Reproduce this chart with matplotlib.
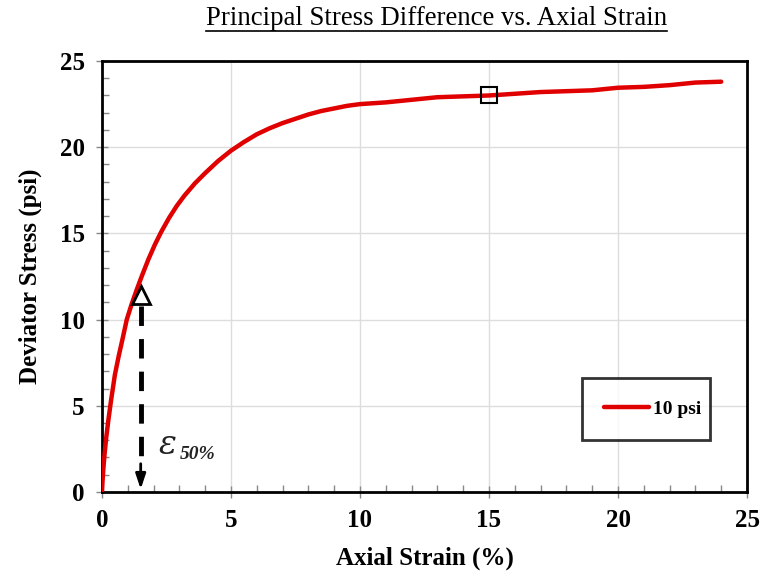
import matplotlib
matplotlib.use("Agg")
import matplotlib.pyplot as plt
from matplotlib.ticker import MultipleLocator
from matplotlib.lines import Line2D

# Data
strain = [0, 0.02, 0.05, 0.1, 0.16, 0.25, 0.35, 0.5, 0.65, 0.8, 0.96, 1.15, 1.35, 1.55,
          1.8, 2.05, 2.3, 2.6, 2.9, 3.2, 3.6, 4.0, 4.5, 5.0, 5.5, 6.0, 6.5, 7.0, 7.5,
          8.0, 8.5, 9.0, 9.5, 10, 11, 12, 13, 14, 15, 16, 17, 18, 19, 20, 21, 22, 23, 24]
stress = [0, 0.6, 1.3, 2.2, 3.1, 4.2, 5.3, 6.8, 7.9, 8.9, 10.0, 10.9, 11.75, 12.55,
          13.5, 14.35, 15.1, 15.9, 16.6, 17.2, 17.9, 18.5, 19.2, 19.8, 20.3, 20.75, 21.1,
          21.4, 21.65, 21.9, 22.1, 22.25, 22.4, 22.5, 22.6, 22.75, 22.9, 22.95, 23.0,
          23.1, 23.2, 23.25, 23.3, 23.45, 23.5, 23.6, 23.75, 23.8]
series_label = "10 psi"
eps50 = [1.5, 11.4]
peak = [15, 23.0]
xticks = [0, 5, 10, 15, 20, 25]
yticks = [0, 5, 10, 15, 20, 25]

serif = ['Liberation Serif', 'DejaVu Serif']

fig = plt.figure(figsize=(7.6, 5.74), dpi=100)
ax = fig.add_axes([0.1342, 0.1429, 0.8487, 0.7508])

ax.plot(strain, stress, color='#e00000', lw=3.2, solid_capstyle='round',
        solid_joinstyle='round', label=series_label, zorder=3)

# epsilon 50 arrow
ax.plot([eps50[0], eps50[0]], [eps50[1] - 0.6, 1.6], color='black', lw=3.5,
        dashes=(4, 2.7), zorder=4)
ax.annotate('', xy=(eps50[0], 0), xytext=(eps50[0], 1.8),
            arrowprops=dict(arrowstyle='-|>,head_length=0.9,head_width=0.3', color='black', lw=2),
            zorder=4)
ax.plot([eps50[0]], [eps50[1]], marker='^', ms=13, mfc='none', mec='black', mew=2, zorder=5)
ax.plot([peak[0]], [peak[1]], marker='s', ms=11, mfc='none', mec='black', mew=1.5, zorder=5)
ax.text(2.2, 2.75, 'ɛ', fontfamily=['DejaVu Serif'], fontstyle='italic', fontsize=24,
        color='#222222', ha='left', va='center', zorder=5)
ax.text(3.0, 2.2, '50%', fontfamily=serif, fontstyle='italic', fontweight='bold', fontsize=14,
        color='#222222', ha='left', va='center', zorder=5)

ax.set_xlim(0, 25)
ax.set_ylim(0, 25)
ax.set_xticks(xticks)
ax.set_yticks(yticks)
ax.xaxis.set_minor_locator(MultipleLocator(1))
ax.yaxis.set_minor_locator(MultipleLocator(1))
ax.grid(True, which='major', color='#dddddd', lw=1)
ax.set_axisbelow(True)
ax.tick_params(which='major', direction='inout', length=9, width=1, color='#888888', pad=8)
ax.tick_params(which='minor', direction='in', length=5, width=1, color='#888888')
for lab in ax.get_xticklabels() + ax.get_yticklabels():
    lab.set_fontfamily(serif)
    lab.set_fontweight('bold')
    lab.set_fontsize(18)
for s in ax.spines.values():
    s.set_color('black')
    s.set_linewidth(2)

ax.set_xlabel('Axial Strain (%)', fontfamily=serif, fontweight='bold', fontsize=18, labelpad=10)
ax.set_ylabel('Deviator Stress (psi)', fontfamily=serif, fontweight='bold', fontsize=18, labelpad=13)

t = fig.text(0.574, 0.967, 'Principal Stress Difference vs. Axial Strain', fontfamily=serif,
             fontsize=19.3, ha='center', va='center')
fig.canvas.draw()
bb = t.get_window_extent().transformed(fig.transFigure.inverted())
fig.add_artist(Line2D([bb.x0, bb.x1], [bb.y0 + 0.001, bb.y0 + 0.001], color='black', lw=1.2,
                      transform=fig.transFigure))

leg = ax.legend(loc='center', bbox_to_anchor=(0.744, 0.118, 0.199, 0.149), mode='expand',
                frameon=True, fancybox=False,
                borderpad=1.15, handlelength=2.3, handletextpad=0.2, borderaxespad=0,
                prop={'family': serif, 'weight': 'bold', 'size': 14})
leg.get_frame().set_edgecolor('black')
leg.get_frame().set_linewidth(2)

fig.savefig('out.png', dpi=100)
